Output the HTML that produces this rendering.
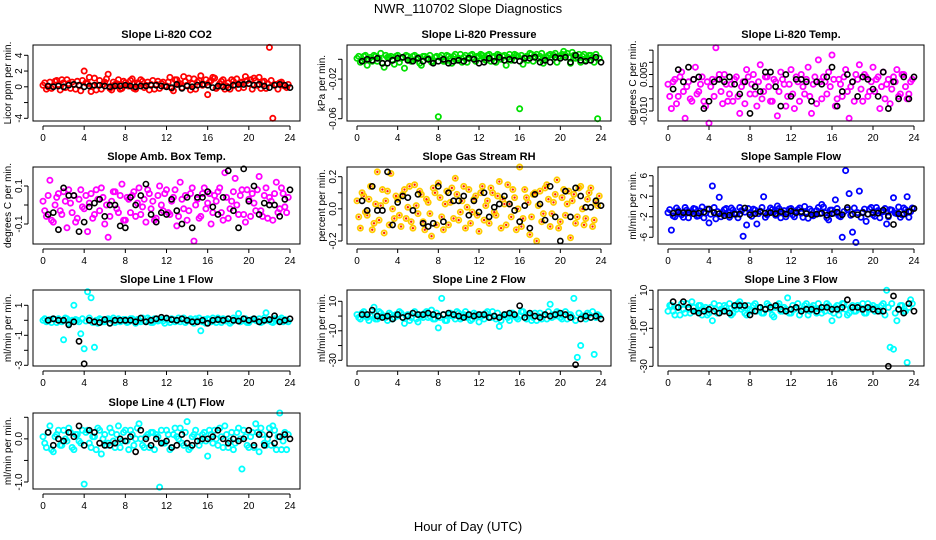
<!DOCTYPE html>
<html><head><meta charset="utf-8"><style>
html,body{margin:0;padding:0;background:#fff;}
svg{display:block;font-family:"Liberation Sans",Arial,sans-serif;}
</style></head><body>
<svg id="chart" width="936" height="540" viewBox="0 0 936 540" xmlns="http://www.w3.org/2000/svg">
<text x="468" y="13" text-anchor="middle" font-size="13">NWR_110702  Slope Diagnostics</text>
<text x="468" y="531" text-anchor="middle" font-size="13">Hour of Day (UTC)</text>
</svg>
<script>
const hoursColor = [0,0.33,0.67,1,1.33,1.67,2,2.33,2.67,3,3.33,3.67,
4,4.33,4.67,5,5.33,5.67,6,6.33,6.67,7,7.33,7.67,
8,8.33,8.67,9,9.33,9.67,10,10.33,10.67,11,11.33,11.67,
12,12.33,12.67,13,13.33,13.67,14,14.33,14.67,15,15.33,15.67,
16,16.33,16.67,17,17.33,17.67,18,18.33,18.67,19,19.33,19.67,
20,20.33,20.67,21,21.33,21.67,22,22.33,22.67,23,23.33,23.67];
const hoursColorB = [0.17,0.5,0.83,1.17,1.5,1.83,2.17,2.5,2.83,3.17,3.5,3.83,
4.17,4.5,4.83,5.17,5.5,5.83,6.17,6.5,6.83,7.17,7.5,7.83,
8.17,8.5,8.83,9.17,9.5,9.83,10.17,10.5,10.83,11.17,11.5,11.83,
12.17,12.5,12.83,13.17,13.5,13.83,14.17,14.5,14.83,15.17,15.5,15.83,
16.17,16.5,16.83,17.17,17.5,17.83,18.17,18.5,18.83,19.17,19.5,19.83,
20.17,20.5,20.83,21.17,21.5,21.83,22.17,22.5,22.83,23.17,23.5,23.83];
const hoursBlack = [0.5,1,1.5,2,2.5,3,3.5,4,4.5,5,5.5,6,
6.5,7,7.5,8,8.5,9,9.5,10,10.5,11,11.5,12,
12.5,13,13.5,14,14.5,15,15.5,16,16.5,17,17.5,18,
18.5,19,19.5,20,20.5,21,21.5,22,22.5,23,23.5,24];
const xTicks = [0,4,8,12,16,20,24];

const co2Color = [0.2,-0.3,0.6,0.1,0.8,-0.4,0.5,0.9,-0.2,0.3,0.7,-0.5,
2.0,0.4,-0.6,1.1,0.2,-0.3,0.6,1.6,-0.4,0.3,0.9,-0.2,
0.5,0.1,1.0,-0.3,0.4,0.7,0.2,-0.4,0.8,0.3,-0.2,0.6,
0.1,1.2,-0.5,0.9,0.4,1.3,0.2,-0.4,1.0,0.6,1.4,0.3,
-1.0,0.8,1.1,0.0,0.7,-0.3,0.5,0.9,0.2,-0.2,0.6,1.3,
0.4,-0.3,0.8,1.2,0.6,-0.2,5.0,-4.0,0.3,0.5,0.2,-0.1];
const co2ColorB = [0.5,0.0,-0.2,0.7,0.3,0.9,-0.1,0.4,0.6,-0.3,0.2,0.8,
0.5,1.2,0.1,-0.4,0.8,0.3,1.0,-0.2,0.6,0.4,-0.3,0.7,
0.2,0.8,-0.2,0.5,0.9,-0.1,0.6,0.3,-0.3,0.7,0.4,0.1,
0.6,-0.2,0.9,0.3,-0.1,0.7,1.1,0.4,-0.3,0.8,0.2,0.9,
0.6,1.2,-0.2,0.4,0.9,0.1,-0.3,0.7,1.0,0.5,-0.1,0.8,
0.9,1.1,0.2,-0.2,0.7,0.4,0.8,0.3,-0.3,0.6,0.1,0.3];
const co2Black = [0.1,0.0,0.1,0.0,0.2,0.3,0.2,0.0,0.1,0.2,0.2,0.1,
0.0,0.1,0.1,0.2,0.1,0.0,0.1,0.1,0.2,0.2,0.1,0.0,
-0.1,0.3,-0.2,0.1,0.0,0.2,0.3,0.2,-0.1,0.1,0.0,-0.1,
0.2,0.3,0.3,0.4,0.2,0.3,0.1,-0.1,0.2,0.3,0.2,-0.1];

const presColor = [0.001,-0.003,0.003,-0.006,0.002,0.004,-0.002,0.006,-0.008,0.002,0.003,-0.005,
0.004,0.001,-0.009,0.003,-0.002,0.004,0.002,-0.006,0.003,0.001,-0.003,0.002,
-0.058,0.004,-0.002,0.003,-0.004,0.005,0.001,-0.003,0.004,0.002,0.005,-0.002,
0.003,0.004,-0.001,0.005,0.002,-0.003,0.004,0.003,-0.006,0.005,0.002,0.004,
-0.05,-0.005,0.003,0.006,-0.002,0.005,0.003,-0.004,0.002,0.005,0.004,-0.003,
0.003,0.008,0.006,-0.004,0.004,0.002,-0.003,0.005,0.001,0.004,-0.003,-0.06];
const presColorB = [0.003,-0.001,0.004,0.000,-0.002,0.003,0.001,-0.004,0.004,0.002,-0.001,0.003,
-0.003,0.002,0.004,-0.001,0.003,0.000,-0.004,0.003,0.001,0.004,-0.002,0.003,
0.002,-0.002,0.004,0.001,0.003,-0.001,0.005,0.002,-0.003,0.004,0.001,0.003,
0.005,0.001,0.004,-0.002,0.003,0.005,0.000,0.004,0.002,-0.001,0.005,0.003,
0.004,0.002,-0.001,0.005,0.003,0.001,0.006,-0.001,0.004,0.002,0.006,0.003,
0.005,0.004,0.002,0.007,0.001,0.005,0.003,-0.001,0.004,0.002,0.005,0.001];
const presBlack = [-0.002,0,-0.001,0.001,-0.004,-0.004,-0.001,0.001,0.002,-0.001,-0.002,0.001,
-0.002,0,-0.004,-0.002,0,-0.004,-0.002,-0.001,-0.002,0.001,0,-0.004,
-0.003,0.001,-0.002,0.002,-0.001,0,-0.001,-0.002,0.001,0.001,0.002,-0.003,
-0.001,-0.003,0.002,0.001,0.002,-0.003,0.004,-0.001,-0.002,-0.001,0.002,-0.003];

const tempColor = [0.001,-0.009,0.003,-0.004,0.006,-0.013,0.002,-0.006,0.008,-0.002,0.004,-0.008,
-0.015,0.003,0.016,0.005,-0.007,0.001,-0.003,-0.006,0.004,-0.011,0.002,0.007,
-0.003,0.005,-0.008,0.009,-0.002,0.004,-0.006,0.003,-0.012,0.006,0.001,-0.004,
0.007,-0.009,0.002,0.005,-0.003,0.008,-0.011,0.004,0.011,-0.005,0.002,0.006,
0.013,-0.008,0.003,-0.004,0.007,-0.013,0.002,0.005,0.009,-0.006,0.004,-0.002,
0.008,0.003,-0.009,0.006,0.001,-0.007,0.004,0.007,-0.003,0.005,-0.005,0.002];
const tempColorB = [-0.004,0.002,-0.007,0.004,-0.002,0.000,-0.005,0.003,-0.003,0.001,-0.006,0.002,
0.000,-0.004,0.003,-0.002,0.005,-0.006,0.001,0.003,-0.004,0.000,-0.007,0.004,
0.001,-0.003,0.002,-0.005,0.004,0.000,-0.006,0.002,-0.002,0.003,-0.008,0.001,
-0.003,0.004,-0.006,0.000,0.003,-0.004,0.001,-0.007,0.002,0.004,-0.003,0.000,
0.003,-0.005,0.001,0.004,-0.002,0.000,-0.006,0.003,-0.001,0.005,-0.004,0.002,
-0.002,0.004,0.000,-0.005,0.003,-0.001,0.002,-0.004,0.005,0.000,-0.003,0.003];
const tempBlack = [-0.001,0.007,0.002,0.008,0.003,0.004,-0.009,-0.006,0.002,0.003,0.002,0.004,
0.001,-0.003,0.002,-0.011,0.000,-0.002,0.006,0.006,0.000,-0.008,0.005,-0.004,
0.003,0.003,0.002,-0.006,0.002,0.001,0.004,0.008,-0.008,-0.002,0.005,0.002,
-0.004,0.004,0.003,-0.001,-0.004,0.006,-0.009,0.002,-0.005,0.004,-0.005,0.004];

const ambColor = [0.02,-0.06,0.13,-0.09,0.04,-0.03,0.07,-0.12,0.01,0.05,-0.07,0.08,
-0.02,-0.14,0.06,-0.05,0.03,0.09,-0.1,-0.17,0.02,0.07,-0.04,0.11,
-0.08,0.03,0.05,-0.06,0.09,-0.01,-0.09,0.06,0.02,-0.07,0.1,-0.03,
0.08,-0.05,0.04,-0.11,0.12,-0.02,-0.08,0.06,-0.19,0.03,-0.06,0.09,
0.01,-0.1,0.05,0.07,-0.04,0.17,-0.07,0.02,0.14,-0.05,0.08,-0.09,
0.03,0.06,-0.03,0.15,-0.06,0.09,0.04,-0.08,0.12,-0.02,0.06,-0.04];
const ambColorB = [-0.03,0.05,-0.08,0.0,0.06,-0.05,0.02,0.08,-0.04,-0.09,0.03,-0.01,
0.05,0.01,-0.07,0.08,-0.03,0.04,0.0,-0.06,0.07,-0.02,0.05,-0.08,
0.04,-0.04,0.07,0.01,-0.05,0.03,0.08,-0.02,-0.08,0.05,0.0,0.06,
-0.04,0.02,0.08,-0.06,0.03,0.05,-0.03,0.09,0.0,-0.07,0.06,-0.02,
0.06,-0.04,0.02,0.09,-0.08,0.04,-0.02,0.07,0.0,0.05,-0.05,0.08,
-0.06,0.01,0.08,-0.03,0.05,-0.07,0.02,0.06,-0.04,0.09,-0.01,0.04];
const ambBlack = [-0.05,-0.04,-0.13,0.09,0.05,0.05,-0.14,-0.09,-0.01,0.01,0.03,-0.06,
0.0,0.0,-0.11,-0.12,0.04,0.0,0.05,0.11,-0.05,-0.09,-0.04,-0.05,
0.03,-0.03,-0.1,0.04,-0.12,0.04,0.04,0.07,-0.01,-0.05,0.04,0.18,
-0.03,-0.12,0.19,0.02,0.1,-0.05,0.01,0.0,0.0,-0.06,0.03,0.08];

const rhColor = [0.05,-0.12,0.08,-0.04,0.14,-0.09,0.23,0.02,-0.15,0.11,0.22,-0.06,
0.06,-0.11,0.12,0.01,-0.08,0.15,-0.03,0.09,-0.13,0.04,-0.17,0.1,
0.16,-0.05,0.03,-0.1,0.13,0.19,-0.07,0.05,-0.12,0.12,-0.02,0.08,
-0.14,0.14,0.02,-0.09,0.1,-0.04,0.17,0.06,-0.1,0.03,0.12,-0.13,
0.26,-0.06,0.07,-0.16,0.09,-0.2,0.11,-0.03,0.15,-0.11,0.04,0.18,
-0.08,0.12,0.03,-0.18,0.09,-0.05,0.14,-0.1,0.06,0.13,-0.07,0.02];
const rhColorB = [-0.05,0.1,-0.02,0.06,-0.13,0.03,-0.07,0.12,0.05,-0.1,0.0,0.08,
-0.04,0.09,-0.06,0.14,-0.12,0.02,0.11,-0.08,0.06,-0.03,0.13,-0.1,
0.07,-0.13,0.11,0.04,-0.06,0.09,-0.02,0.14,0.01,-0.09,0.06,-0.04,
0.1,-0.07,0.05,0.13,-0.02,0.08,-0.12,0.03,0.15,-0.05,0.07,0.0,
-0.11,0.12,0.04,-0.05,0.1,0.02,-0.08,0.13,0.06,-0.03,0.09,-0.12,
0.07,-0.04,0.11,0.05,-0.09,0.13,0.0,-0.06,0.1,-0.11,0.04,0.08];
const rhBlack = [0.05,-0.01,0.14,-0.01,-0.01,0.23,-0.1,0.04,0.08,0.07,-0.01,0.09,
-0.09,-0.11,-0.09,0.14,-0.08,0.1,0.05,0.05,0.08,-0.04,0.05,-0.02,
0.1,-0.05,0.01,0.03,0.08,0.03,-0.01,-0.08,0.02,-0.12,0.09,0.03,
-0.07,0.14,-0.05,-0.2,0.11,-0.05,0.13,0.08,0.01,0.01,0.05,0.02];

const flowColor = [-1.2,-4.6,-2.0,-0.8,-1.6,-0.2,-2.2,-1.0,-0.5,-1.8,-0.1,-1.3,
-3.2,4.0,-2.4,1.8,-1.1,-0.4,-2.1,-0.7,-1.5,-0.2,-5.8,-3.6,
-1.2,-0.5,-3.4,-0.9,1.9,-1.6,-0.3,-1.1,0.1,-2.2,-0.8,-1.4,
-0.4,-2.0,-0.6,-1.3,0.0,-2.3,-0.9,-1.5,-0.2,0.4,-1.2,-2.6,
-0.7,1.3,-1.8,-6.0,7.0,2.5,-5.0,-7.0,3.0,-1.1,-2.9,-0.5,
-1.6,-0.2,-2.2,-1.0,-3.4,-0.6,1.7,-1.4,-2.1,-0.3,1.9,-1.0];
const flowColorB = [-0.6,-1.8,-0.3,-1.4,-2.1,-0.7,-1.2,-0.4,-1.9,-0.9,-2.2,-0.5,
-1.5,-0.2,-1.0,-2.0,-0.6,-1.6,-0.3,-1.3,-2.2,-0.8,-1.1,-0.4,
-1.9,-0.7,-1.4,-0.2,-2.1,-1.0,-0.6,-1.7,-0.4,-1.2,-2.0,-0.5,
-1.6,-0.9,-0.3,-2.1,-1.1,-0.5,-1.8,-0.8,-1.4,-0.1,-2.2,-0.7,
-1.3,-0.4,-2.0,-1.0,-0.6,-1.7,-0.3,-1.2,-2.1,-0.5,-1.5,-0.2,
-1.9,-0.8,-1.1,-0.4,-2.0,-0.7,-1.3,-0.1,-1.6,-0.6,-2.1,-0.3];
const flowBlack = [-1.3,-1.1,-1.2,-1.2,-1.4,-1.3,-1.1,-0.5,-1.2,-1.4,-1.8,-1.7,
-1.5,-1.5,-0.3,-1.6,-1.4,-1.0,-1.3,-1.2,-1.4,-1.0,-1.5,-0.9,
-1.2,-1.0,-1.4,-1.6,-1.5,-1.3,-1.7,-1.4,-1.1,-1.6,-0.2,-1.5,
-1.6,-1.2,-1.5,-1.2,-1.3,-0.7,-1.8,-3.5,-1.4,-1.5,-1.0,-0.4];

const line1Color = [0.0,-0.1,0.05,0.1,-0.15,0.0,-1.3,0.1,-0.1,1.0,0.0,-0.9,
-1.9,1.9,1.5,-1.8,-0.2,0.05,-0.1,0.1,0.0,-0.15,0.1,-0.05,
0.05,-0.1,0.1,-0.2,0.0,0.15,-0.1,0.05,-0.15,0.1,0.0,-0.05,
0.1,-0.15,0.05,0.0,-0.1,0.15,-0.05,0.1,-0.2,0.0,-0.7,0.05,
0.1,-0.1,0.0,0.15,-0.15,0.05,0.1,-0.1,0.0,0.45,-0.05,0.1,
-0.15,0.05,0.0,0.1,-0.1,0.5,0.0,-0.15,0.1,0.05,-0.1,0.0];
const line1ColorB = [0.1,-0.05,-0.15,0.05,0.1,-0.1,0.15,-0.2,0.0,0.05,-0.1,0.1,
-0.05,0.15,-0.15,0.0,0.1,-0.1,0.05,-0.2,0.15,0.0,-0.1,0.05,
-0.15,0.1,0.0,0.05,-0.1,-0.05,0.15,-0.15,0.1,-0.05,0.05,-0.2,
0.0,0.1,-0.1,0.15,0.05,-0.15,0.0,-0.05,0.1,0.15,-0.1,-0.2,
0.05,0.15,-0.15,0.0,0.1,-0.05,-0.2,0.15,0.05,-0.1,0.1,-0.15,
0.0,0.1,-0.05,-0.15,0.15,0.0,-0.1,0.1,-0.05,0.15,0.05,-0.1];
const line1Black = [0.0,0.1,0.0,0.0,-0.3,-0.1,-1.4,-2.9,0.0,-0.1,-0.15,0.05,
-0.2,0.0,0.0,0.0,0.0,-0.1,0.15,-0.1,0.0,0.1,0.2,0.15,
0.05,0.0,0.1,0.0,-0.1,-0.1,0.0,-0.2,0.0,0.05,0.0,0.1,
0.0,-0.05,0.1,0.0,0.1,-0.1,0.0,0.05,0.3,-0.1,0.0,0.1];

const line2Color = [1,-2,3,-1,0,6,-2,2,0,-3,1,-1,
0,2,-5,1,-1,3,-4,0,2,-1,4,-2,
-8,12,-3,1,0,-2,2,-1,3,0,-2,1,
-4,0,2,-1,3,-2,-7,0,1,-3,2,-1,
0,3,-2,1,-1,-3,2,0,-2,8,1,3,
-1,0,-2,1,12,-28,-20,0,2,-1,-26,1];
const line2ColorB = [-1,2,0,-3,1,-2,3,0,-1,2,-2,1,
3,-1,0,-3,2,-2,1,-1,3,0,-2,2,
-1,1,-3,2,0,3,-2,1,-1,-3,2,0,
1,-2,3,-1,0,2,-3,1,-1,2,0,-2,
3,-1,1,-3,2,0,-2,1,3,-1,0,2,
-2,3,1,-1,-3,2,0,-2,1,3,-1,0];
const line2Black = [1,1,4,0,-1,0,-2,1,-1,0,2,1,
1,2,1,0,1,2,1,0,-1,1,0,1,
1,-1,0,-1,1,2,1,7,-1,2,0,-1,
1,0,1,2,1,-1,-33,-2,0,-1,0,-2];

const line3Color = [-1,2,-3,1,3,-2,0,4,-1,2,-3,1,
-2,-6,0,2,-1,1,3,-2,0,4,1,-3,
0,2,-1,1,-2,3,0,-4,2,-1,1,6,
-2,0,3,-1,2,-3,1,0,3,-2,-1,2,
-6,1,-3,3,0,-2,2,-1,1,3,-2,0,
2,1,-1,3,10,-20,-21,-6,2,-1,-28,5];
const line3ColorB = [2,-1,1,-3,0,3,-2,1,-1,2,0,-3,
1,3,-2,0,2,-1,-3,1,3,0,-2,2,
-1,3,1,-2,0,2,-3,1,3,-1,0,-2,
2,1,-3,0,3,-1,2,-2,0,1,3,-1,
-2,2,0,3,-3,1,-1,2,0,-2,3,1,
-1,0,2,-3,1,3,-2,0,2,-1,1,3];
const line3Black = [4,1,4,1,-1,-2,-1,0,-1,-2,-1,-2,
2,2,2,-3,-1,1,0,1,2,0,-1,0,
1,-1,0,0,-1,1,1,0,0,1,5,1,
1,0,1,0,-1,-1,-30,7,0,-2,3,-1];

const line4Color = [0.05,-0.2,0.3,-0.3,0.1,-0.15,0.2,-0.05,0.15,-0.25,0.1,-0.1,
-1.05,0.2,-0.2,0.05,0.25,-0.35,0.1,-0.1,0.15,-0.2,0.3,-0.05,
0.2,-0.25,0.1,0.0,0.35,-0.15,0.05,-0.2,0.15,0.1,-1.12,-0.1,
0.2,-0.25,0.1,0.05,0.25,-0.15,0.4,-0.2,0.1,0.05,-0.05,0.15,
-0.4,0.1,0.2,-0.15,0.05,0.3,-0.2,0.15,-0.1,0.25,-0.7,0.05,
-0.2,0.15,0.35,-0.3,0.1,-0.15,0.25,0.3,-0.25,0.6,-0.05,-0.25];
const line4ColorB = [-0.1,0.15,-0.25,0.05,0.2,-0.15,0.0,0.25,-0.2,0.1,-0.05,0.2,
0.15,-0.1,0.05,-0.25,0.2,0.0,-0.15,0.25,-0.05,0.1,-0.2,0.15,
-0.05,0.2,-0.15,0.25,0.0,-0.2,0.1,0.15,-0.25,0.05,0.2,-0.1,
0.1,-0.2,0.25,0.0,-0.1,0.15,-0.25,0.05,0.2,-0.15,0.1,-0.05,
0.2,-0.1,0.0,0.25,-0.2,0.1,-0.05,-0.25,0.15,0.0,0.2,-0.15,
0.05,-0.2,0.15,0.25,-0.1,0.0,-0.15,0.2,0.05,-0.25,0.15,0.1];
const line4Black = [0.15,-0.15,0.0,-0.05,0.15,0.05,0.3,-0.15,0.2,0.15,-0.1,-0.15,
-0.15,-0.1,0.0,-0.05,0.05,-0.3,0.2,0.0,-0.15,0.0,-0.1,-0.05,
-0.2,-0.15,0.1,-0.1,-0.15,-0.05,0.0,0.0,0.05,0.2,0.0,-0.1,
0.0,-0.05,0.0,0.2,-0.15,0.1,-0.15,0.1,-0.1,0.05,0.1,0.0];

const co2Ticks = [4,2,0,-2,-4], co2Labels = ["4","2","0","","-4"];
const presTicks = [0,-0.02,-0.04,-0.06], presLabels = ["","-0.02","","-0.06"];
const tempTicks = [0.015,0.01,0.005,0,-0.005,-0.01], tempLabels = ["","","0.005","","","-0.010"];
const ambTicks = [0.1,0,-0.1], ambLabels = ["0.1","","-0.1"];
const rhTicks = [0.2,0.1,0,-0.1,-0.2], rhLabels = ["0.2","","0.0","","-0.2"];
const flowTicks = [6,4,2,0,-2,-4,-6], flowLabels = ["6","","2","","-2","","-6"];
const line1Ticks = [1,0,-1,-2,-3], line1Labels = ["1","","-1","","-3"];
const line23Ticks = [10,0,-10,-20,-30], line23Labels = ["10","","-10","","-30"];
const line4Ticks = [0.5,0,-0.5,-1], line4Labels = ["","0.0","","-1.0"];

const NS = "http://www.w3.org/2000/svg";
const svg = document.getElementById('chart');
const cols = [{l:33,r:300},{l:347,r:611},{l:658,r:924}];
const rows = [{t:45,b:121},{t:167,b:244},{t:290,b:366},{t:413,b:489}];

function mk(tag, attrs, parent){
  const e = document.createElementNS(NS, tag);
  for (const k in attrs) e.setAttribute(k, attrs[k]);
  (parent||svg).appendChild(e);
  return e;
}

const panels = [
 {name:'co2', title:'Slope Li-820 CO2', ylab:'Licor ppm per min.', c:0, r:0, v0:4, p0:55.3, v1:-4, p1:118.3, color:co2Color, colorB:co2ColorB, black:co2Black, stroke:'#ff0000', ticks:co2Ticks, labels:co2Labels},
 {name:'pressure', title:'Slope Li-820 Pressure', ylab:'kPa per min.', c:1, r:0, v0:0, p0:59.3, v1:-0.06, p1:118.7, color:presColor, colorB:presColorB, black:presBlack, stroke:'#00e000', ticks:presTicks, labels:presLabels},
 {name:'li820-temp', title:'Slope Li-820 Temp.', ylab:'degrees C per min.', c:2, r:0, v0:0.005, p0:74.5, v1:-0.01, p1:111, color:tempColor, colorB:tempColorB, black:tempBlack, stroke:'#ff00ff', ticks:tempTicks, labels:tempLabels},
 {name:'amb-box-temp', title:'Slope Amb. Box Temp.', ylab:'degrees C per min.', c:0, r:1, v0:0.1, p0:186, v1:-0.1, p1:224, color:ambColor, colorB:ambColorB, black:ambBlack, stroke:'#ff00ff', ticks:ambTicks, labels:ambLabels},
 {name:'gas-stream-rh', title:'Slope Gas Stream RH', ylab:'percent per min.', c:1, r:1, v0:0.2, p0:176.7, v1:-0.2, p1:241, color:rhColor, colorB:rhColorB, black:rhBlack, stroke:'#ffcc00', inner:'#ff2000', ticks:rhTicks, labels:rhLabels},
 {name:'sample-flow', title:'Slope Sample Flow', ylab:'ml/min per min.', c:2, r:1, v0:6, p0:175.7, v1:-6, p1:237.3, color:flowColor, colorB:flowColorB, black:flowBlack, stroke:'#0000ff', ticks:flowTicks, labels:flowLabels},
 {name:'line1-flow', title:'Slope Line 1 Flow', ylab:'ml/min per min.', c:0, r:2, v0:1, p0:305.3, v1:-3, p1:365.3, color:line1Color, colorB:line1ColorB, black:line1Black, stroke:'#00ffff', ticks:line1Ticks, labels:line1Labels},
 {name:'line2-flow', title:'Slope Line 2 Flow', ylab:'ml/min per min.', c:1, r:2, v0:10, p0:301.3, v1:-30, p1:360.3, color:line2Color, colorB:line2ColorB, black:line2Black, stroke:'#00ffff', ticks:line23Ticks, labels:line23Labels},
 {name:'line3-flow', title:'Slope Line 3 Flow', ylab:'ml/min per min.', c:2, r:2, v0:10, p0:290.3, v1:-30, p1:366.3, color:line3Color, colorB:line3ColorB, black:line3Black, stroke:'#00ffff', ticks:line23Ticks, labels:line23Labels},
 {name:'line4-flow', title:'Slope Line 4 (LT) Flow', ylab:'ml/min per min.', c:0, r:3, v0:0.5, p0:417.3, v1:-1, p1:482, color:line4Color, colorB:line4ColorB, black:line4Black, stroke:'#00ffff', ticks:line4Ticks, labels:line4Labels}
];

panels.forEach(p => {
  const col = cols[p.c], row = rows[p.r];
  const x0 = col.l + 10, x24 = col.r - 10;
  const xs = h => x0 + (h/24)*(x24 - x0);
  const ys = v => p.p0 + (v - p.v0)*(p.p1 - p.p0)/(p.v1 - p.v0);
  const g = mk('g', {});
  
  

  const title = mk('text', {x:(col.l+col.r)/2, y:row.t-7, 'text-anchor':'middle', 'font-size':'11', 'font-weight':'bold'}, g);
  title.textContent = p.title;
  
  

  const yl = mk('text', {x:0, y:0, transform:`translate(${col.l-22},${(row.t+row.b)/2}) rotate(-90)`, 'text-anchor':'middle', 'font-size':'10'}, g);
  yl.textContent = p.ylab;
  
  

  const pts = mk('g', {}, g);
  
  
  function drawColor(vals, hrs){
    vals.forEach((v, i) => {
      if (hrs[i] === undefined) return;
      const c = mk('circle', {cx:xs(hrs[i]), cy:ys(v), r:2.6, fill:'none', stroke:p.stroke, 'stroke-width':1.8}, pts);
      
      
      if (p.inner) {
        const d = mk('circle', {cx:xs(hrs[i]), cy:ys(v), r:1.2, fill:p.inner}, pts);
        
        
      }
    });
  }
  drawColor(p.color, hoursColor);
  drawColor(p.colorB, hoursColorB);

  const bpts = mk('g', {}, g);
  
  
  p.black.forEach((v, i) => {
    if (hoursBlack[i] === undefined) return;
    const c = mk('circle', {cx:xs(hoursBlack[i]), cy:ys(v), r:2.6, fill:'none', stroke:'#000', 'stroke-width':1.6}, bpts);
    
    
  });

  const box = mk('rect', {x:col.l, y:row.t, width:col.r-col.l, height:row.b-row.t, fill:'none', stroke:'#000', 'stroke-width':1}, g);
  
  

  const xa = mk('g', {}, g);
  
  
  mk('line', {x1:x0, x2:x24, y1:row.b+5, y2:row.b+5, stroke:'#000'}, xa);
  xTicks.forEach(t => {
    mk('line', {x1:xs(t), x2:xs(t), y1:row.b+5, y2:row.b+9, stroke:'#000'}, xa);
    const tl = mk('text', {x:xs(t), y:row.b+20, 'text-anchor':'middle', 'font-size':'10'}, xa);
    tl.textContent = t;
    
    
  });

  const ya = mk('g', {}, g);
  
  
  const tp = p.ticks.map(ys);
  mk('line', {x1:col.l-5, x2:col.l-5, y1:Math.min(...tp), y2:Math.max(...tp), stroke:'#000'}, ya);
  p.ticks.forEach((t, i) => {
    const y = ys(t);
    mk('line', {x1:col.l-9, x2:col.l-5, y1:y, y2:y, stroke:'#000'}, ya);
    if (p.labels[i]) {
      const tl = mk('text', {x:0, y:0, transform:`translate(${col.l-11},${y}) rotate(-90)`, 'text-anchor':'middle', 'font-size':'10'}, ya);
      tl.textContent = p.labels[i];
      
      
    }
  });
});
</script>
</body></html>
